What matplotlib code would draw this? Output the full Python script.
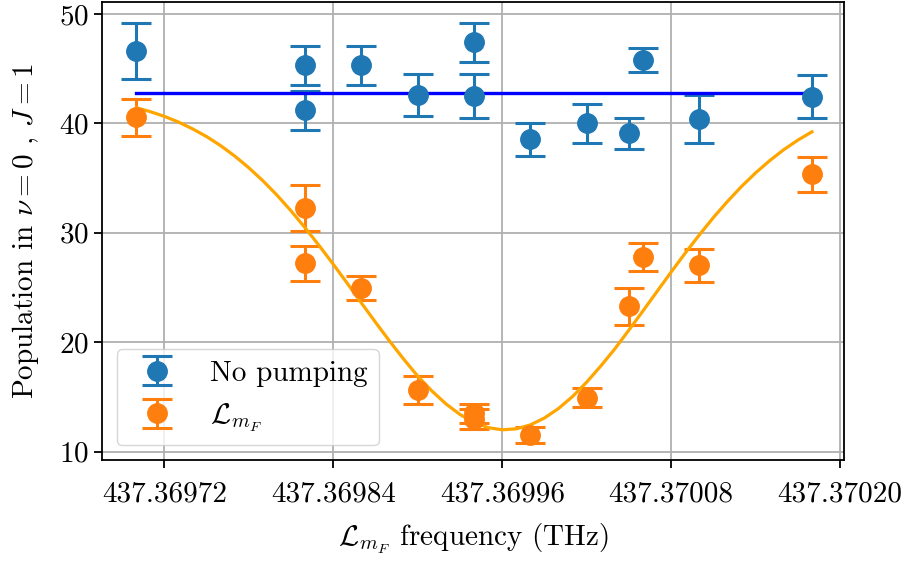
import matplotlib
matplotlib.use("Agg")
import matplotlib.pyplot as plt
from matplotlib.ticker import FormatStrFormatter

plt.rcParams["font.family"] = "serif"
plt.rcParams["font.serif"] = ["cmr10"]
plt.rcParams["mathtext.fontset"] = "cm"
plt.rcParams["axes.formatter.use_mathtext"] = True
plt.rcParams["font.size"] = 21

# measured points (THz, population)
freq = [437.36970, 437.36982, 437.36982, 437.36986, 437.36990, 437.36994,
        437.36994, 437.36998, 437.37002, 437.37005, 437.37006, 437.37010,
        437.37018]
no_pump = [46.6, 45.3, 41.2, 45.3, 42.6, 47.4, 42.5, 38.55, 40.0, 39.1,
           45.8, 40.4, 42.45]
no_pump_err = [2.55, 1.75, 1.8, 1.8, 1.95, 1.75, 2.0, 1.5, 1.75, 1.4,
               1.1, 2.2, 1.95]
pumped = [40.55, 32.25, 27.2, 24.95, 15.65, 13.5, 13.0, 11.5, 14.95, 23.3,
          27.8, 27.05, 35.35]
pumped_err = [1.7, 2.1, 1.6, 1.1, 1.3, 0.9, 0.9, 0.75, 0.9, 1.7, 1.3, 1.5,
              1.6]

# mean level without pumping
no_pump_mean = 42.8

# fitted lineshape
fit_freq = [437.369700, 437.369710, 437.369720, 437.369730, 437.369740,
            437.369750, 437.369760, 437.369770, 437.369780, 437.369790,
            437.369800, 437.369810, 437.369820, 437.369830, 437.369840,
            437.369850, 437.369860, 437.369870, 437.369880, 437.369890,
            437.369900, 437.369910, 437.369920, 437.369930, 437.369940,
            437.369950, 437.369960, 437.369970, 437.369980, 437.369990,
            437.370000, 437.370010, 437.370020, 437.370030, 437.370040,
            437.370050, 437.370060, 437.370070, 437.370080, 437.370090,
            437.370100, 437.370110, 437.370120, 437.370130, 437.370140,
            437.370150, 437.370160, 437.370170, 437.370180]
fit_pop = [41.43, 41.07, 40.64, 40.12, 39.50, 38.79, 37.96, 37.01, 35.94,
           34.75, 33.44, 32.00, 30.45, 28.82, 27.12, 25.37, 23.58, 21.82,
           20.10, 18.45, 16.90, 15.55, 14.37, 13.40, 12.67, 12.20, 12.00,
           12.09, 12.45, 13.08, 13.95, 15.05, 16.36, 17.83, 19.40, 21.12,
           22.87, 24.65, 26.42, 28.15, 29.81, 31.40, 32.87, 34.24, 35.48,
           36.60, 37.60, 38.47, 39.23]

xticks = [437.36972, 437.36984, 437.36996, 437.37008, 437.37020]
yticks = [10, 20, 30, 40, 50]

fig = plt.figure(figsize=(9.07, 5.61), dpi=100)
ax = fig.add_axes([0.1125, 0.18, 0.8184, 0.817])

ebkw = dict(fmt="o", markersize=14, capsize=11, elinewidth=2.2, capthick=2.2)
ax.errorbar(freq, no_pump, yerr=no_pump_err, label="No pumping", **ebkw)
ax.errorbar(freq, pumped, yerr=pumped_err, label=r"$\mathcal{L}_{m_F}$", **ebkw)
ax.plot([freq[0], freq[-1]], [no_pump_mean, no_pump_mean], color="b", lw=2.4)
ax.plot(fit_freq, fit_pop, color="orange", lw=2.3)

ax.set_xticks(xticks)
ax.set_yticks(yticks)
ax.xaxis.set_major_formatter(FormatStrFormatter("%.5f"))
ax.set_xlim(437.3696757, 437.370203)
ax.set_ylim(9.24, 51.12)
ax.grid(True, color="#b0b0b0", lw=1.3)
ax.tick_params(length=6, width=1.3)
ax.tick_params(axis="x", pad=9)
for s in ax.spines.values():
    s.set_linewidth(1.3)

ax.set_xlabel(r"$\mathcal{L}_{m_F}$ frequency (THz)", labelpad=10)
ax.set_ylabel(r"Population in $\nu=0$ , $J=1$", labelpad=13)
ax.legend(loc="lower left")

fig.savefig("out.png", dpi=100)
